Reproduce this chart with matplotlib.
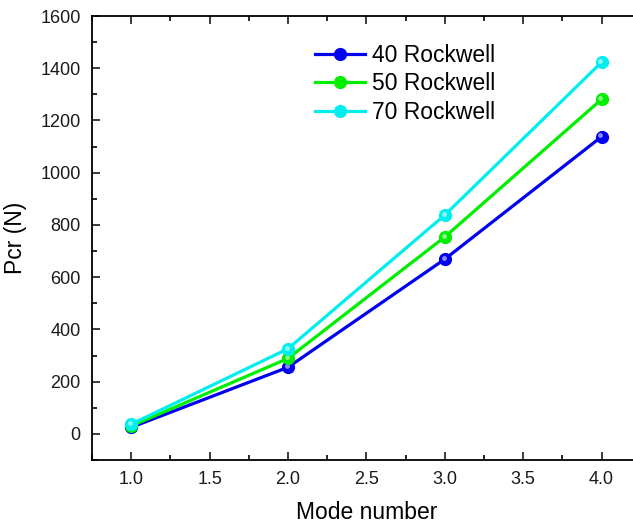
import matplotlib
matplotlib.use("Agg")
import matplotlib.pyplot as plt
import matplotlib.transforms as mtransforms
from matplotlib.ticker import MultipleLocator, FormatStrFormatter

plt.rcParams['font.family'] = ['Liberation Sans', 'DejaVu Sans']

mode = [1.0, 2.0, 3.0, 4.0]
rw40 = [25, 255, 669, 1138]
rw50 = [30, 289, 754, 1281]
rw70 = [37, 326, 838, 1423]

labels = ["40 Rockwell", "50 Rockwell", "70 Rockwell"]
colors = ["#0000ee", "#00ee00", "#00eeee"]

fig = plt.figure(figsize=(6.33, 5.25), dpi=100)
ax = fig.add_axes([0.1453, 0.1238, 0.867, 0.8457])

# shift for the shiny spot on each ball marker
shine = mtransforms.offset_copy(ax.transData, fig=fig, x=-1.2, y=1.2, units='dots')

for y, lab, c in zip([rw40, rw50, rw70], labels, colors):
    ax.plot(mode, y, color=c, lw=2.3, marker='o', markersize=8.5,
            markerfacecolor=c, markeredgecolor=c, label=lab)
    ax.plot(mode, y, ls='none', marker='o', markersize=3.5, transform=shine,
            markerfacecolor='white', markeredgecolor='none', alpha=0.55)

ax.set_xlim(0.75, 4.25)
ax.set_ylim(-100, 1600)
ax.xaxis.set_major_locator(MultipleLocator(0.5))
ax.xaxis.set_minor_locator(MultipleLocator(0.25))
ax.yaxis.set_major_locator(MultipleLocator(200))
ax.yaxis.set_minor_locator(MultipleLocator(100))
ax.xaxis.set_major_formatter(FormatStrFormatter('%.1f'))

ax.tick_params(which='both', direction='in', top=True, right=True, width=1.2)
ax.tick_params(which='major', length=6, labelsize=13, pad=8, colors='#1a1a1a')
ax.tick_params(which='minor', length=3.5)
for s in ax.spines.values():
    s.set_linewidth(1.3)
# right edge of the frame is cut off in the original picture
ax.spines['right'].set_visible(False)

ax.set_xlabel("Mode number", fontsize=16.5, labelpad=9)
ax.set_ylabel("Pcr (N)", fontsize=16.5, labelpad=10)

ax.legend(loc='upper left', bbox_to_anchor=(0.368, 0.984), frameon=False,
          fontsize=16.5, handlelength=2.2, handletextpad=0.3, labelspacing=0.25)

fig.savefig("out.png", dpi=100)
